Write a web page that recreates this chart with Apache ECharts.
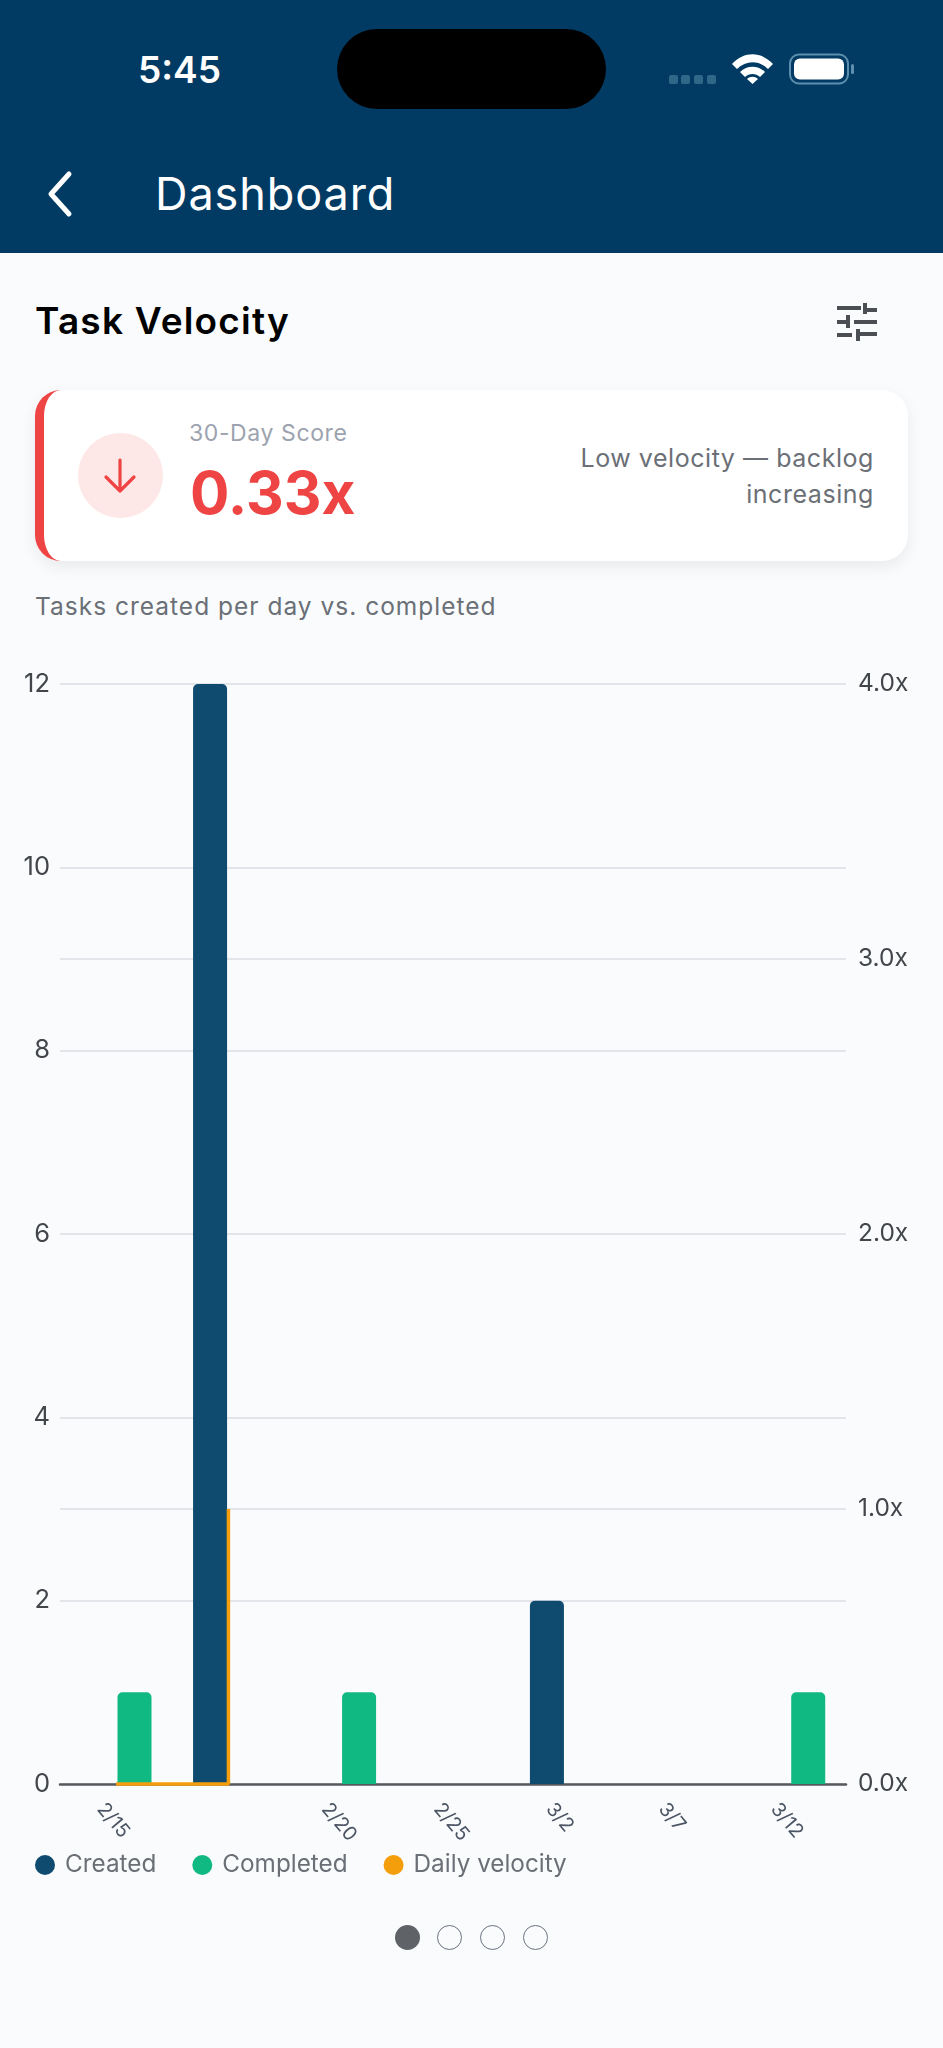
<!DOCTYPE html>
<html>
<head>
<meta charset="utf-8">
<script src="https://cdn.jsdelivr.net/npm/echarts@6/dist/echarts.min.js"></script>
<style>
html,body{margin:0;padding:0;width:943px;height:2048px;background:#F9FBFD;overflow:hidden;font-family:Inter,"Noto Sans",sans-serif}
.a{position:absolute;white-space:nowrap;line-height:1}
#chart{position:absolute;left:0;top:0;width:943px;height:2048px}
</style>
</head>
<body>
<div class="a" style="left:0;top:0;width:943px;height:253px;background:#013B63"></div>
<div class="a" style="left:337px;top:29px;width:269px;height:80px;border-radius:40px;background:#000"></div>
<div class="a" style="left:138px;top:51px;font-size:37px;font-weight:600;color:#fff">5:45</div>
<svg class="a" style="left:660px;top:45px" width="210" height="50" viewBox="660 45 210 50">
  <g fill="#2F6788"><rect x="669" y="75" width="9" height="9" rx="2"/><rect x="681" y="75" width="9" height="9" rx="2"/><rect x="694" y="75" width="9" height="9" rx="2"/><rect x="707" y="75" width="9" height="9" rx="2"/></g>
  <path d="M732 64 C744 51 761 51 773 64 L768 69 C759 60 746 60 737 69Z M740 72 C747 65 758 65 765 72 L760 77 C756 73 749 73 745 77Z M747 79 L752.5 84 L758 79 C755 76 750 76 747 79Z" fill="#fff"/>
  <rect x="790" y="54.5" width="58" height="29" rx="9" fill="none" stroke="#5C8FAD" stroke-width="2"/>
  <rect x="794" y="58.5" width="50" height="21" rx="6" fill="#fff"/>
  <rect x="851" y="64" width="3" height="10" rx="1.5" fill="#5C8FAD"/>
</svg>
<svg class="a" style="left:40px;top:165px" width="40" height="60"><path d="M29 9 L11 29 L29 49" fill="none" stroke="#fff" stroke-width="5" stroke-linecap="round" stroke-linejoin="round"/></svg>
<div class="a" style="left:155px;top:171px;font-size:45px;color:#fff;letter-spacing:0.9px">Dashboard</div>
<div class="a" style="left:35px;top:302px;font-size:37px;font-weight:600;color:#000;letter-spacing:1.2px">Task Velocity</div>
<svg class="a" style="left:835px;top:300px" width="44" height="44" fill="#4B4F54">
  <rect x="2" y="6" width="24" height="4"/><rect x="32" y="8" width="10" height="4" /><rect x="28" y="3" width="4" height="11"/>
  <rect x="2" y="20" width="9" height="4"/><rect x="11" y="15" width="4" height="13"/><rect x="19" y="20" width="23" height="4"/>
  <rect x="2" y="33" width="15" height="4"/><rect x="21" y="32" width="21" height="4"/><rect x="21" y="29" width="4" height="12"/>
</svg>
<div class="a" style="left:35px;top:390px;width:873px;height:171px;border-radius:26px;background:#fff;box-shadow:0 6px 16px rgba(0,0,0,.07);border-left:9px solid #EF4444;box-sizing:border-box"></div>
<div class="a" style="left:78px;top:433px;width:85px;height:85px;border-radius:50%;background:#FEE7E7"></div>
<svg class="a" style="left:100px;top:455px" width="42" height="42"><path d="M20 5 V36 M6 22 L20 36 L34 22" fill="none" stroke="#EF4444" stroke-width="3.2" stroke-linecap="round" stroke-linejoin="round"/></svg>
<div class="a" style="left:189px;top:422px;font-size:23px;color:#9CA3AF;letter-spacing:0.6px">30-Day Score</div>
<div class="a" style="left:190px;top:464px;font-size:58.5px;font-weight:700;color:#EF4444">0.33x</div>
<div class="a" style="right:69px;top:446px;font-size:25px;color:#6B6F76;letter-spacing:0.55px">Low velocity — backlog</div>
<div class="a" style="right:69px;top:482px;font-size:25px;color:#6B6F76;letter-spacing:0.55px">increasing</div>
<div class="a" style="left:35px;top:594px;font-size:24.5px;color:#6B6F76;letter-spacing:1px">Tasks created per day vs. completed</div>
<div class="a" style="left:395px;top:1925px;width:25px;height:25px;border-radius:50%;background:#5F6368"></div>
<div class="a" style="left:437px;top:1925px;width:25px;height:25px;border-radius:50%;border:1.5px solid #6B7280;box-sizing:border-box"></div>
<div class="a" style="left:480px;top:1925px;width:25px;height:25px;border-radius:50%;border:1.5px solid #6B7280;box-sizing:border-box"></div>
<div class="a" style="left:523px;top:1925px;width:25px;height:25px;border-radius:50%;border:1.5px solid #6B7280;box-sizing:border-box"></div>
<div id="chart"></div>
<script>
const categories = ['2/15', '', '2/20', '2/25', '3/2', '3/7', '3/12'];
const created = [0, 12, 0, 0, 2, 0, 0];
const completed = [1, 0, 1, 0, 0, 0, 1];
// [category index, multiplier]: flat at 0x, then a step up to 1.0x on the second category
const dailyVelocity = [[0, 0], [1, 0], [1, 1]];

const chart = echarts.init(document.getElementById('chart'), null, {renderer: 'canvas'});
const font = 'Inter';
chart.setOption({
  animation: false,
  backgroundColor: 'transparent',
  grid: {left: 60, right: 97, top: 684, height: 1100, containLabel: false},
  legend: {
    left: 35, top: 1853, padding: 0, itemWidth: 20, itemHeight: 20, itemGap: 36, icon: 'circle',
    textStyle: {fontFamily: font, fontSize: 24.3, color: '#6B6F76', padding: [0, 0, 0, 5]},
    data: ['Created', 'Completed', 'Daily velocity']
  },
  xAxis: {
    type: 'category', data: categories,
    axisLine: {lineStyle: {color: '#55585C', width: 2.5}},
    axisTick: {alignWithLabel: true, length: 8, interval: 0, lineStyle: {color: '#B5B9BE', width: 1.5}},
    axisLabel: {
      interval: 0, rotate: -50, align: 'center', verticalAlign: 'middle', margin: 40,
      formatter: v => v ? '{a|' + v + '}' : '',
      rich: {a: {width: 48, align: 'left', fontFamily: font, fontSize: 19.5, color: '#4B5563'}}
    }
  },
  yAxis: [
    {type: 'value', min: 0, max: 12, interval: 2, axisLine: {show: false}, axisTick: {show: false},
     axisLabel: {margin: 10, fontFamily: font, fontSize: 25.5, color: '#42454A'},
     splitLine: {lineStyle: {color: '#E2E5EA', width: 2}}},
    {type: 'value', min: 0, max: 4, interval: 1, position: 'right', axisLine: {show: false}, axisTick: {show: false},
     axisLabel: {margin: 12, fontFamily: font, fontSize: 24.5, color: '#42454A', formatter: v => v.toFixed(1) + 'x'},
     splitLine: {show: true, lineStyle: {color: '#E2E5EA', width: 2}}}
  ],
  series: [
    {name: 'Created', type: 'bar', data: created, barWidth: 34, barGap: '8%', itemStyle: {color: '#0F4A6F', borderRadius: [5, 5, 0, 0]}},
    {name: 'Completed', type: 'bar', data: completed, barWidth: 34, itemStyle: {color: '#10B981', borderRadius: [5, 5, 0, 0]}},
    {name: 'Daily velocity', type: 'line', yAxisIndex: 1, data: dailyVelocity, showSymbol: false, symbol: 'none', clip: false, z: 5,
     itemStyle: {color: '#F59E0B'}, lineStyle: {color: '#F59E0B', width: 3.5}}
  ]
});
</script>
</body>
</html>
